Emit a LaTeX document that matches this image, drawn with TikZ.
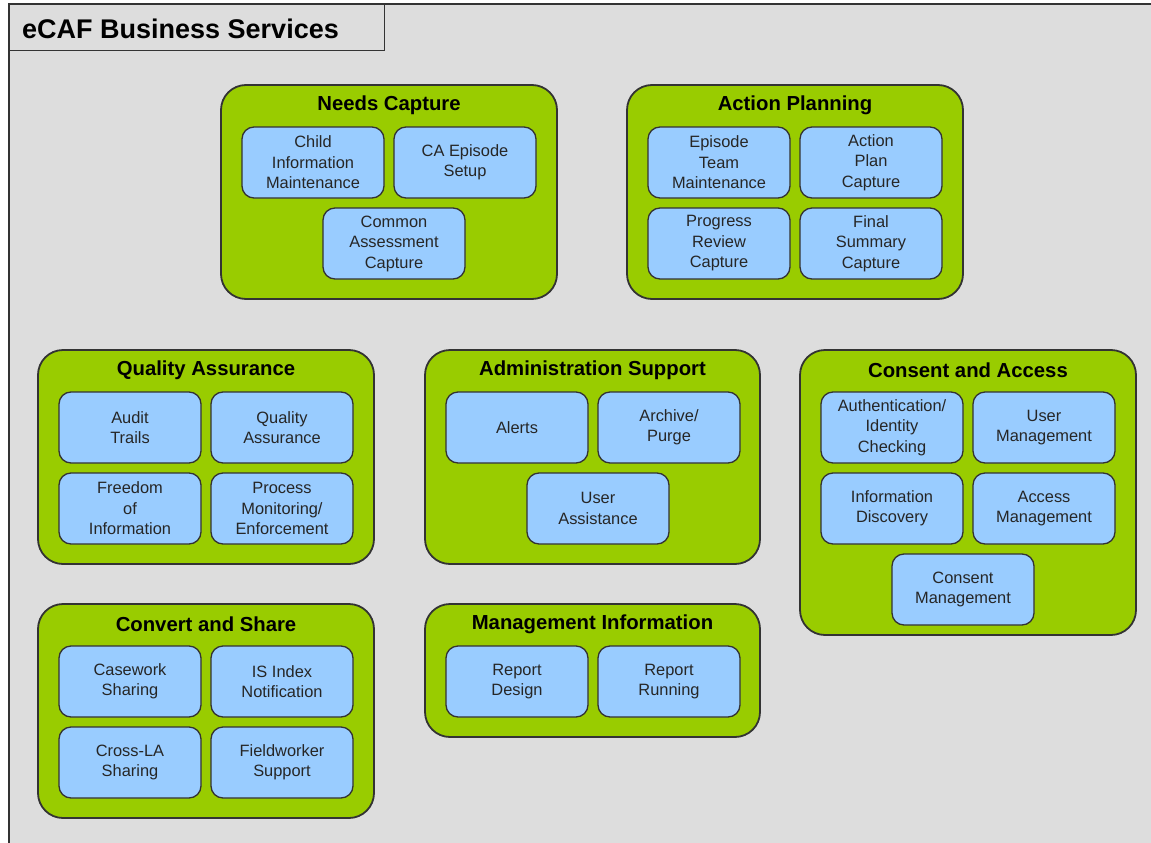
\documentclass[tikz,border=0pt]{standalone}
\usepackage{fontspec}
\setmainfont{Liberation Sans}
\definecolor{bggray}{HTML}{DDDDDD}
\definecolor{grp}{HTML}{99CC00}
\definecolor{svcblue}{HTML}{99CCFF}
\definecolor{edge}{HTML}{333333}
\begin{document}
\begin{tikzpicture}[x=1pt,y=-1pt,
  group/.style={draw=edge,line width=1.8pt,fill=grp,rounded corners=25pt,inner sep=0pt},
  grptitle/.style={font=\bfseries\fontsize{20.3}{23}\selectfont,text=black,inner sep=0pt},
  svc/.style={draw=edge,line width=1.3pt,fill=svcblue,rounded corners=12pt,minimum width=142pt,minimum height=71pt,inner sep=0pt,align=center,font=\fontsize{16.4}{20.5}\selectfont,text=black!85},
  frame/.style={draw=edge,line width=1.2pt}]
\useasboundingbox (0,0) rectangle (1151,843);
\fill[white] (0,0) rectangle (1151,843);
\fill[bggray] (9,4) rectangle (1151,843);
\draw[frame] (9,843) -- (9,4) -- (1151,4);
\node[frame,fill=bggray,minimum width=375pt,minimum height=46pt,anchor=north west,inner sep=0pt] (titlebox) at (9,4) {};
\node[anchor=west,font=\bfseries\fontsize{27}{30}\selectfont,inner sep=0pt] (title) at (22,29) {eCAF Business Services};

% Needs Capture
\node[group,minimum width=336pt,minimum height=214pt] (gnc) at (389,192) {};
\node[grptitle] (tnc) at (389,105) {Needs Capture};
\node[svc] (nc1) at (313,162.5) {Child\\Information\\Maintenance};
\node[svc] (nc2) at (465,162.5) {CA Episode\\Setup};
\node[svc] (nc3) at (394,243.5) {Common\\Assessment\\Capture};

% Action Planning
\node[group,minimum width=336pt,minimum height=214pt] (gap) at (795,192) {};
\node[grptitle] (tap) at (795,105) {Action Planning};
\node[svc] (ap1) at (719,162.5) {Episode\\Team\\Maintenance};
\node[svc] (ap2) at (871,162.5) {Action\\Plan\\Capture};
\node[svc] (ap3) at (719,243.5) {Progress\\Review\\Capture};
\node[svc] (ap4) at (871,243.5) {Final\\Summary\\Capture};

% Quality Assurance
\node[group,minimum width=336pt,minimum height=214pt] (gqa) at (206,457) {};
\node[grptitle] (tqa) at (206,370) {Quality Assurance};
\node[svc] (qa1) at (130,427.5) {Audit\\Trails};
\node[svc] (qa2) at (282,427.5) {Quality\\Assurance};
\node[svc] (qa3) at (130,508.5) {Freedom\\of\\Information};
\node[svc] (qa4) at (282,508.5) {Process\\Monitoring/\\Enforcement};

% Administration Support
\node[group,minimum width=335pt,minimum height=214pt] (gas) at (592.5,457) {};
\node[grptitle] (tas) at (592.5,370) {Administration Support};
\node[svc] (as1) at (517,427.5) {Alerts};
\node[svc] (as2) at (669,427.5) {Archive/\\Purge};
\node[svc] (as3) at (598,508.5) {User\\Assistance};

% Consent and Access
\node[group,minimum width=336pt,minimum height=285pt] (gca) at (968,492.5) {};
\node[grptitle] (tca) at (968,370) {Consent and Access};
\node[svc] (ca1) at (892,427.5) {Authentication/\\Identity\\Checking};
\node[svc] (ca2) at (1044,427.5) {User\\Management};
\node[svc] (ca3) at (892,508.5) {Information\\Discovery};
\node[svc] (ca4) at (1044,508.5) {Access\\Management};
\node[svc] (ca5) at (963,589.5) {Consent\\Management};

% Convert and Share
\node[group,minimum width=336pt,minimum height=214pt] (gcs) at (206,711) {};
\node[grptitle] (tcs) at (206,624) {Convert and Share};
\node[svc] (cs1) at (130,681.5) {Casework\\Sharing};
\node[svc] (cs2) at (282,681.5) {IS Index\\Notification};
\node[svc] (cs3) at (130,762.5) {Cross-LA\\Sharing};
\node[svc] (cs4) at (282,762.5) {Fieldworker\\Support};

% Management Information
\node[group,minimum width=335pt,minimum height=133pt] (gmi) at (592.5,670.5) {};
\node[grptitle] (tmi) at (592.5,624) {Management Information};
\node[svc] (mi1) at (517,681.5) {Report\\Design};
\node[svc] (mi2) at (669,681.5) {Report\\Running};
\end{tikzpicture}
\end{document}
